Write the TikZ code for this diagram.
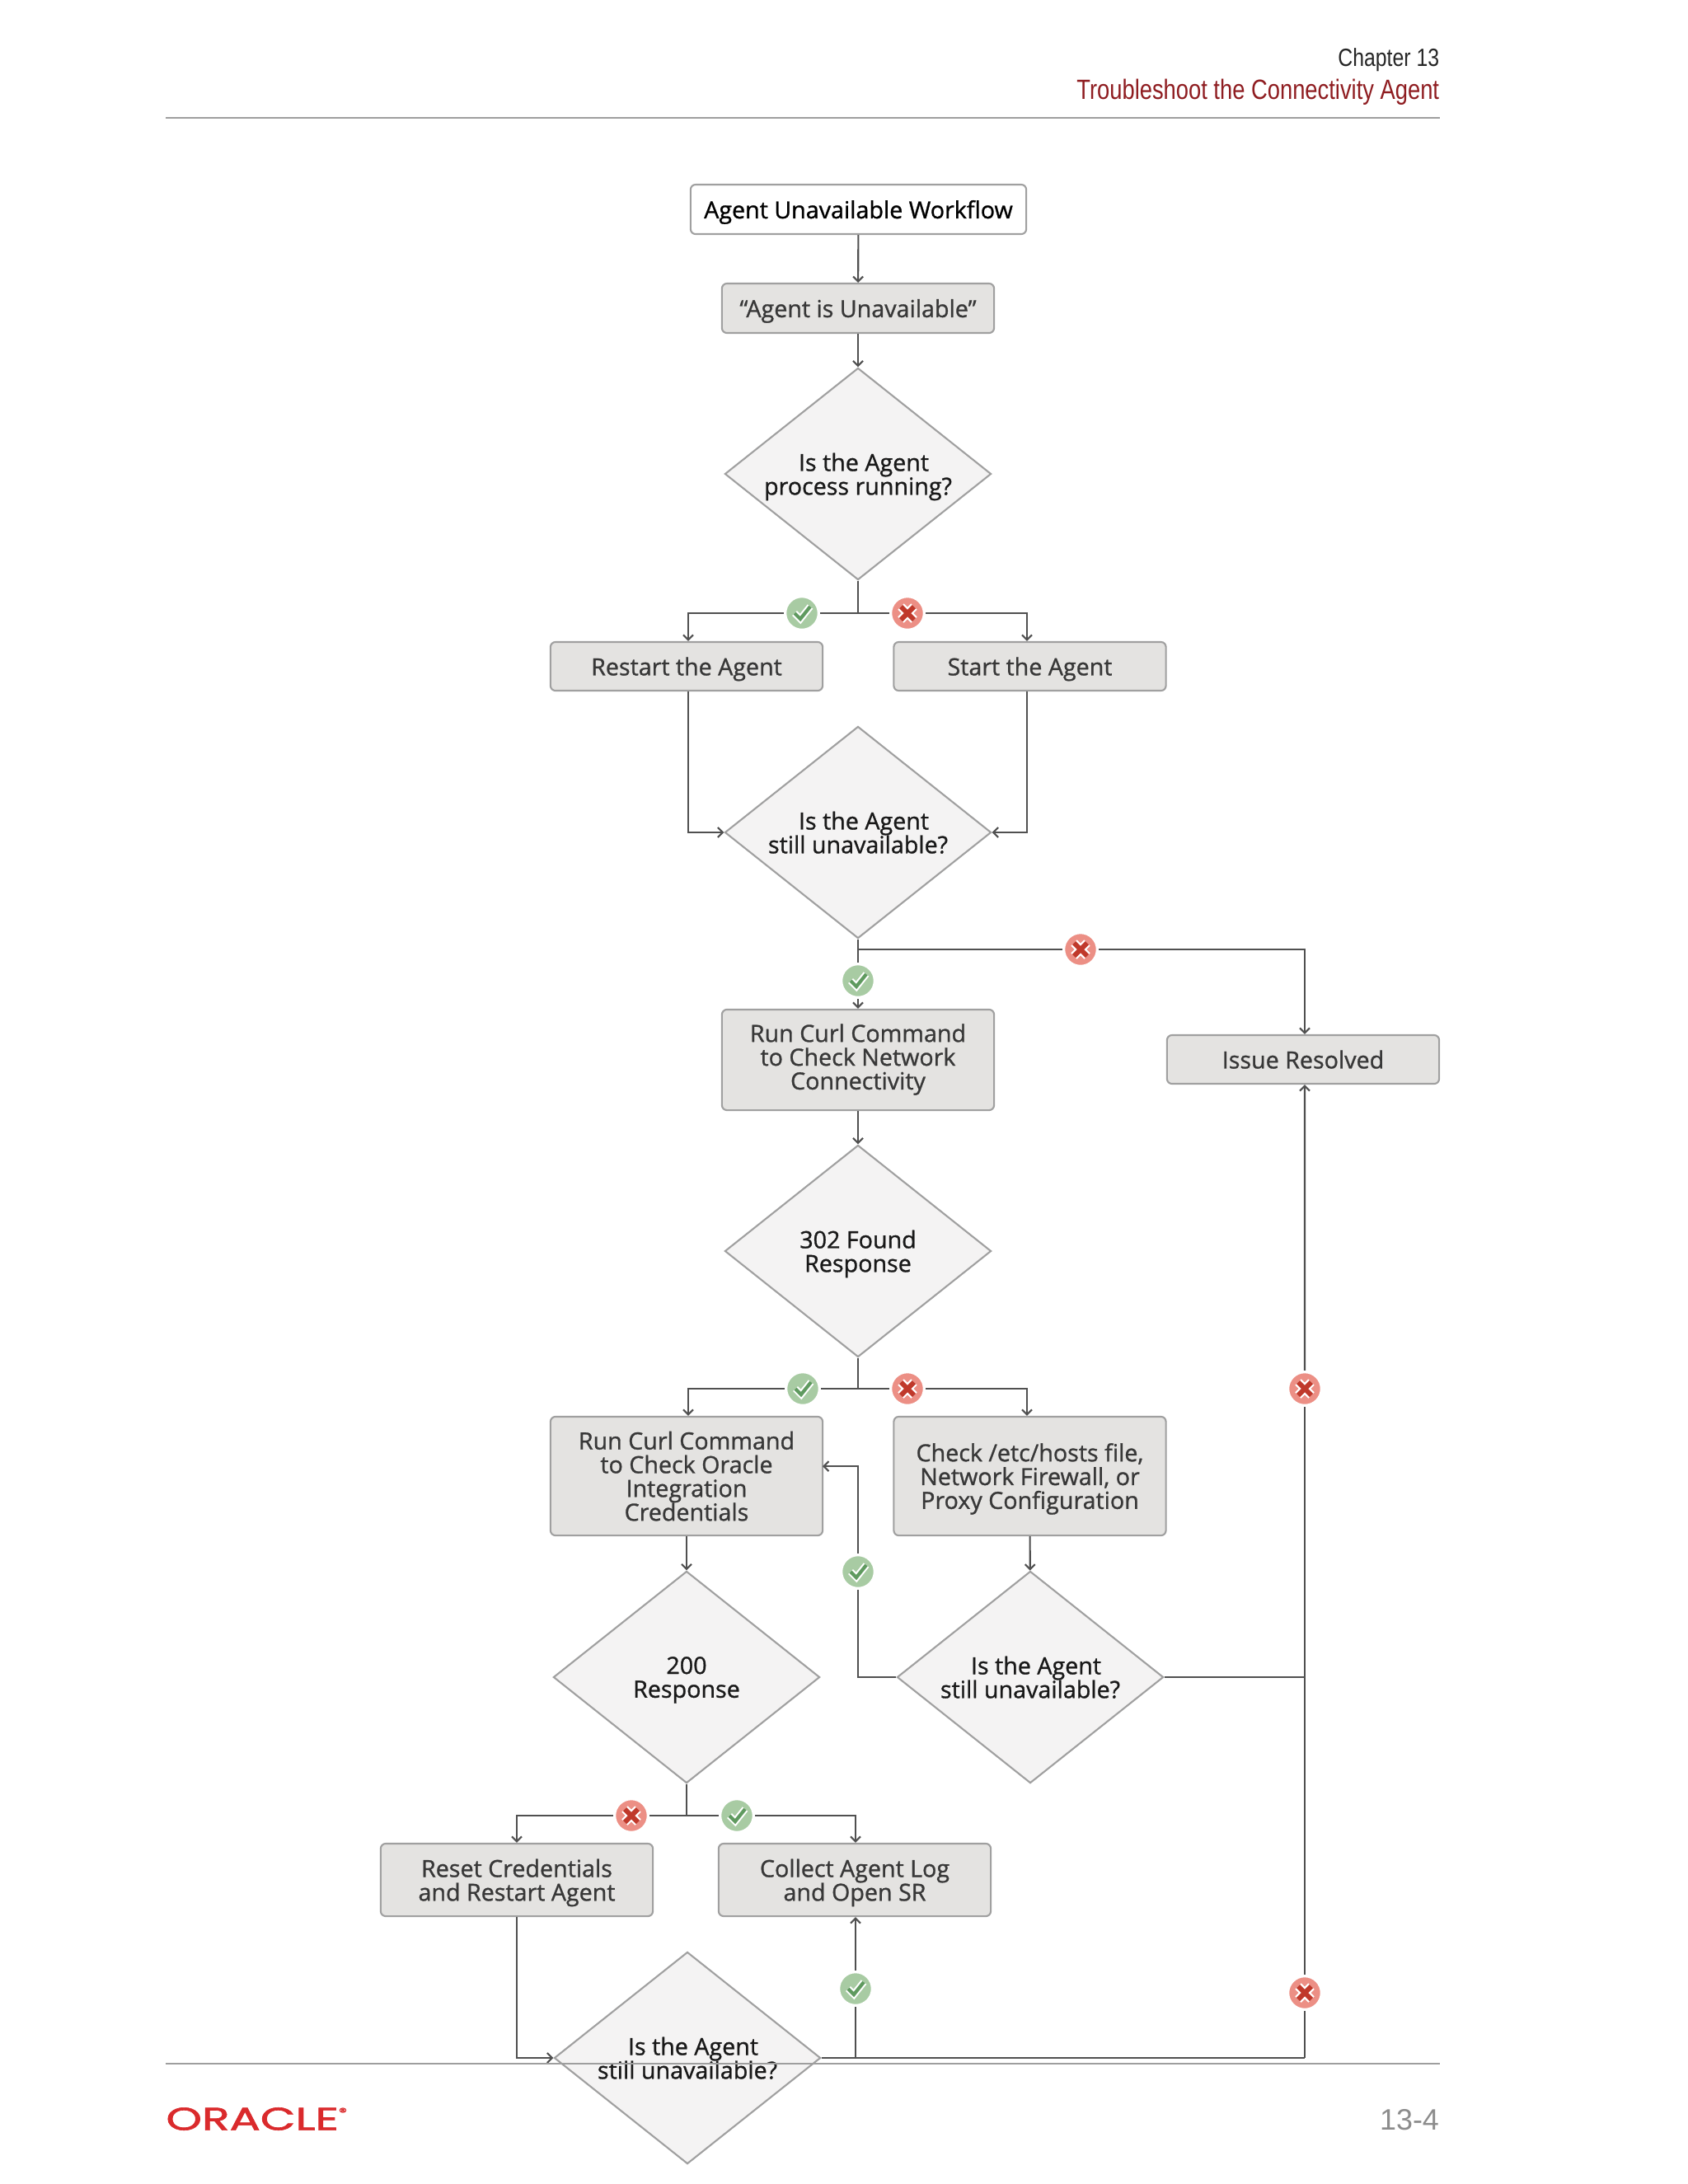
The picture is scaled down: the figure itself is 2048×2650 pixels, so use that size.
\documentclass[tikz,border=0pt]{standalone}
\usepackage{fontspec}
\setmainfont{Open Sans}
\newfontfamily\flowfont[FakeBold=1.0]{Open Sans}
\newfontfamily\headfont{Liberation Sans}
\newfontfamily\logofont[FakeBold=1.5]{Poppins}
\usetikzlibrary{arrows.meta,shapes.geometric}
\setlength{\normallineskiplimit}{-8pt}
\setlength{\lineskiplimit}{-8pt}
\definecolor{boxgray}{HTML}{E4E3E1}
\definecolor{decgray}{HTML}{F4F3F3}
\definecolor{edgegray}{HTML}{A0A0A0}
\definecolor{linegray}{HTML}{505050}
\definecolor{okfill}{HTML}{A8CBA3}
\definecolor{okdark}{HTML}{5F9A5F}
\definecolor{nofill}{HTML}{EC8F85}
\definecolor{nodark}{HTML}{C0392B}
\definecolor{headred}{HTML}{8F1D21}
\definecolor{logored}{HTML}{DA2A2C}
\begin{document}
\begin{tikzpicture}[x=0.01cm, y=-0.01cm, line width=0.6pt, >={Straight Barb[length=0.06cm,width=0.12cm]},
	flowtext/.style={font=\flowfont\fontsize{8.15}{8.2}\selectfont,align=center,text depth=0pt},
	startbox/.style={rectangle,rounded corners=0.06cm,draw=edgegray,fill=white,inner sep=0pt,flowtext,text=black},
	taskbox/.style={rectangle,rounded corners=0.06cm,draw=edgegray,fill=boxgray,inner sep=0pt,flowtext,text=black!78},
	decision/.style={diamond,shape aspect=1.26,draw=edgegray,fill=decgray,inner sep=0pt,minimum width=3.23cm,minimum height=2.57cm,flowtext,text=black!90},
	flow/.style={draw=linegray},
	okmark/.style={circle,draw=white,line width=1pt,fill=okfill,minimum size=0.41cm,inner sep=0pt,path picture={
		\draw[white,line width=2.4pt] (-9,0) -- (-2,7) -- (10,-8);
		\draw[okdark,line width=1.2pt] (-9,0) -- (-2,7) -- (10,-8);}},
	nomark/.style={circle,draw=white,line width=1pt,fill=nofill,minimum size=0.41cm,inner sep=0pt,path picture={
		\draw[white,line width=3pt] (-8,-8) -- (8,8) (-8,8) -- (8,-8);
		\draw[nodark,line width=1.7pt] (-8,-8) -- (8,8) (-8,8) -- (8,-8);}},
	pagerule/.style={draw=black!38,line width=0.5pt}]
	\useasboundingbox (0,0) rectangle (2048,2650);

	\node (title) at (1041.5,254) [startbox,minimum width=4.07cm,minimum height=0.6cm] {Agent Unavailable Workflow};
	\node (unavail) at (1041,374) [taskbox,minimum width=3.3cm,minimum height=0.6cm] {“Agent is Unavailable”};
	\node (running) at (1041,575) [decision] {\hspace*{0.14cm}Is the Agent\\process running?};
	\node (restart) at (833,808.5) [taskbox,minimum width=3.3cm,minimum height=0.59cm] {Restart the Agent};
	\node (startag) at (1249.5,808.5) [taskbox,minimum width=3.3cm,minimum height=0.59cm] {Start the Agent};
	\node (still1) at (1041,1010) [decision] {\hspace*{0.14cm}Is the Agent\\still unavailable?};
	\node (curlnet) at (1041,1286) [taskbox,minimum width=3.3cm,minimum height=1.22cm,text depth=2.2pt] {Run Curl Command\\to Check Network\\Connectivity};
	\node (resolved) at (1581,1285.5) [taskbox,minimum width=3.3cm,minimum height=0.59cm] {Issue Resolved};
	\node (found) at (1041,1518) [decision] {302 Found\\Response};
	\node (curlcred) at (833,1791) [taskbox,minimum width=3.3cm,minimum height=1.44cm] {Run Curl Command\\to Check Oracle\\Integration\\Credentials};
	\node (hosts) at (1249.5,1791) [taskbox,minimum width=3.3cm,minimum height=1.44cm] {Check /etc/hosts file,\\Network Firewall, or\\Proxy Configuration};
	\node (resp200) at (833,2035) [decision] {200\\Response};
	\node (still2) at (1250,2035) [decision] {\hspace*{0.14cm}Is the Agent\\still unavailable?};
	\node (reset) at (627,2281) [taskbox,minimum width=3.3cm,minimum height=0.88cm] {Reset Credentials\\and Restart Agent};
	\node (collect) at (1037,2281) [taskbox,minimum width=3.3cm,minimum height=0.88cm] {Collect Agent Log\\and Open SR};
	\node (still3) at (834,2497) [decision] {\hspace*{0.14cm}Is the Agent\\still unavailable?};

	\node (okrun) at (973,744) [okmark] {};
	\node (norun) at (1101,744) [nomark] {};
	\node (okstill1) at (1041,1190) [okmark] {};
	\node (nostill1) at (1311,1152) [nomark] {};
	\node (okfound) at (974,1685) [okmark] {};
	\node (nofound) at (1101,1685) [nomark] {};
	\node (okstill2) at (1041,1907) [okmark] {};
	\node (nostill2) at (1583,1685) [nomark] {};
	\node (no200) at (766,2203) [nomark] {};
	\node (ok200) at (894,2203) [okmark] {};
	\node (okstill3) at (1038,2413) [okmark] {};
	\node (nostill3) at (1583,2418) [nomark] {};

	\coordinate (jrun) at (1041,744);
	\coordinate (jstill1) at (1041,1152);
	\coordinate (jfound) at (1041,1685);
	\coordinate (jright2) at (1583,2035);
	\coordinate (j200) at (833,2203);
	\coordinate (jleft2) at (1041,2035);
	\coordinate (jcred) at (998,1779);
	\coordinate (jstill3) at (1038,2497);
	\coordinate (jright3) at (1583,2497);

	\draw[flow,->] (title) to (unavail);
	\draw[flow,->] (unavail) to (running);
	\draw[flow] (running) to (jrun);
	\draw[flow] (jrun) to (okrun);
	\draw[flow] (jrun) to (norun);
	\draw[flow,->] (okrun) -| ([xshift=0.02cm]restart.north);
	\draw[flow,->] (norun) -| ([xshift=-0.035cm]startag.north);
	\draw[flow,->] ([xshift=0.02cm]restart.south) |- (still1.west);
	\draw[flow,->] ([xshift=-0.035cm]startag.south) |- (still1.east);
	\draw[flow] (still1) to (okstill1);
	\draw[flow,->] (okstill1) to (curlnet);
	\draw[flow] (jstill1) to (nostill1);
	\draw[flow,->] (nostill1) -| ([xshift=0.02cm]resolved.north);
	\draw[flow,->] (curlnet) to (found);
	\draw[flow] (found) to (jfound);
	\draw[flow] (jfound) to (okfound);
	\draw[flow] (jfound) to (nofound);
	\draw[flow,->] (okfound) -| ([xshift=0.02cm]curlcred.north);
	\draw[flow,->] (nofound) -| ([xshift=-0.035cm]hosts.north);
	\draw[flow,->] (curlcred) to (resp200);
	\draw[flow,->] (hosts) to (still2);
	\draw[flow] (still2.west) to (jleft2) to (okstill2);
	\draw[flow,->] (okstill2) |- (jcred);
	\draw[flow] (still2.east) to (jright2);
	\draw[flow] (resp200) to (j200);
	\draw[flow] (j200) to (no200);
	\draw[flow] (j200) to (ok200);
	\draw[flow,->] (no200) -| (reset.north);
	\draw[flow,->] (ok200) -| ([xshift=0.01cm]collect.north);
	\draw[flow,->] (reset.south) |- (still3.west);
	\draw[flow] (still3.east) to (jright3);
	\draw[flow] (jright3) to (nostill3);
	\draw[flow] (nostill3) to (nostill2);
	\draw[flow,->] (nostill2) to ([xshift=0.02cm]resolved.south);
	\draw[flow] (jstill3) to (okstill3);
	\draw[flow,->] (okstill3) to ([xshift=0.01cm]collect.south);

	\draw[pagerule] (201,143) to (1747,143);
	\draw[pagerule] (201,2504) to (1747,2504);
	\node (chapter) at (1747,73) [anchor=east,inner sep=0pt,xscale=0.82,text=black!85,font=\headfont\fontsize{8.6}{10}\selectfont] {Chapter 13};
	\node (section) at (1747,112) [anchor=east,inner sep=0pt,xscale=0.81,text=headred,font=\headfont\fontsize{9.6}{11}\selectfont] {Troubleshoot the Connectivity Agent};
	\node (oracle) at (200,2571) [anchor=west,inner sep=0pt,xscale=1.43,text=logored,font=\logofont\fontsize{11}{12}\selectfont] {ORACLE\raisebox{0.8ex}{\fontsize{4}{4}\selectfont ®}};
	\node (pageno) at (1747,2572) [anchor=east,inner sep=0pt,text=black!45,font=\headfont\fontsize{10.2}{12}\selectfont] {13-4};
\end{tikzpicture}
\end{document}
